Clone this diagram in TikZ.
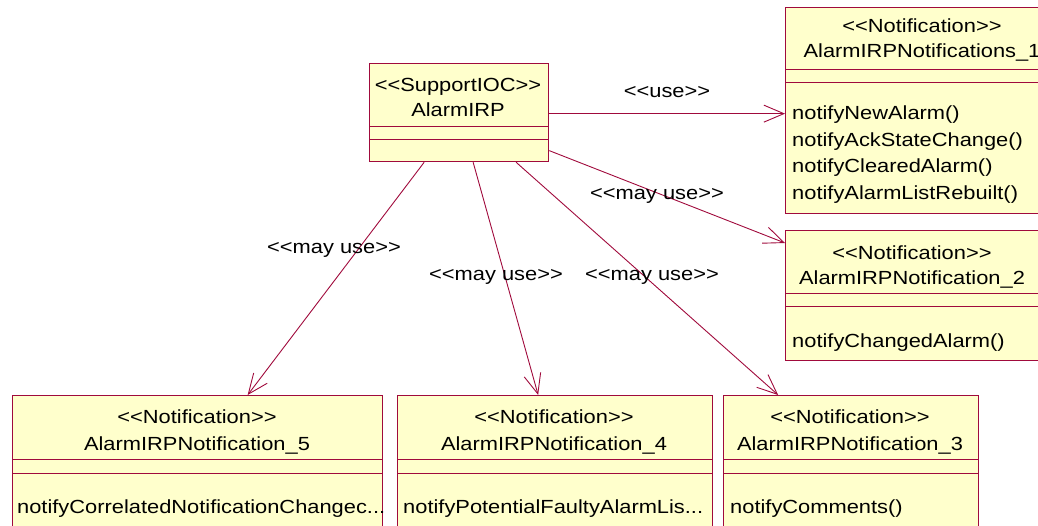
\documentclass[tikz,border=0pt]{standalone}
\usepackage{fontspec}
\newfontfamily\umlfont{Liberation Sans}[FakeStretch=1.15]
\usetikzlibrary{arrows.meta,positioning}
\definecolor{umlline}{RGB}{160,10,60}
\definecolor{umlfill}{RGB}{255,255,204}

\begin{document}
\begin{tikzpicture}[
    x=1pt, y=-1pt,
    classbox/.style={rectangle, draw=umlline, fill=umlfill, line width=1.3pt, inner sep=0pt, anchor=north west},
    sep/.style={draw=umlline, line width=1pt},
    txt/.style={font=\umlfont\fontsize{19}{22}\selectfont, inner sep=0pt, anchor=base},
    op/.style={txt, anchor=base west},
    dep/.style={draw=umlline, line width=0.9pt, -{Straight Barb[length=20pt,width=17pt]}}
]
\useasboundingbox (0,0) rectangle (1038,526);

% SupportIOC class
\node[classbox, minimum width=179pt, minimum height=98pt] (irp) at (369,63) {};
\draw[sep] ([yshift=-64pt]irp.north west) -- ([yshift=-64pt]irp.north east);
\draw[sep] ([yshift=-77pt]irp.north west) -- ([yshift=-77pt]irp.north east);
\node[txt] (irp_st) at (458,92) {<<SupportIOC>>};
\node[txt] (irp_nm) at (458,117) {AlarmIRP};

% Notification 1
\node[classbox, minimum width=275pt, minimum height=206pt] (n1) at (785,7) {};
\draw[sep] ([yshift=-63pt]n1.north west) -- ([yshift=-63pt]n1.north east);
\draw[sep] ([yshift=-76pt]n1.north west) -- ([yshift=-76pt]n1.north east);
\node[txt] (n1_st) at (922,33) {<<Notification>>};
\node[txt] (n1_nm) at (922,58) {AlarmIRPNotifications\_1};
\node[op] (n1_op1) at (792,120) {notifyNewAlarm()};
\node[op] (n1_op2) at (792,147) {notifyAckStateChange()};
\node[op] (n1_op3) at (792,173) {notifyClearedAlarm()};
\node[op] (n1_op4) at (792,200) {notifyAlarmListRebuilt()};

% Notification 2
\node[classbox, minimum width=255pt, minimum height=130pt] (n2) at (785,230) {};
\draw[sep] ([yshift=-64pt]n2.north west) -- ([yshift=-64pt]n2.north east);
\draw[sep] ([yshift=-77pt]n2.north west) -- ([yshift=-77pt]n2.north east);
\node[txt] (n2_st) at (912,260) {<<Notification>>};
\node[txt] (n2_nm) at (912,285) {AlarmIRPNotification\_2};
\node[op] (n2_op1) at (792,347) {notifyChangedAlarm()};

% Notification 5
\node[classbox, minimum width=370pt, minimum height=150pt] (n5) at (12,395) {};
\draw[sep] ([yshift=-64pt]n5.north west) -- ([yshift=-64pt]n5.north east);
\draw[sep] ([yshift=-78pt]n5.north west) -- ([yshift=-78pt]n5.north east);
\node[txt] (n5_st) at (197,423) {<<Notification>>};
\node[txt] (n5_nm) at (197,450) {AlarmIRPNotification\_5};
\node[op] (n5_op1) at (17,513) {notifyCorrelatedNotificationChangec...};

% Notification 4
\node[classbox, minimum width=315pt, minimum height=150pt] (n4) at (397,395) {};
\draw[sep] ([yshift=-64pt]n4.north west) -- ([yshift=-64pt]n4.north east);
\draw[sep] ([yshift=-78pt]n4.north west) -- ([yshift=-78pt]n4.north east);
\node[txt] (n4_st) at (554,423) {<<Notification>>};
\node[txt] (n4_nm) at (554,450) {AlarmIRPNotification\_4};
\node[op] (n4_op1) at (403,513) {notifyPotentialFaultyAlarmLis...};

% Notification 3
\node[classbox, minimum width=255pt, minimum height=150pt] (n3) at (723,395) {};
\draw[sep] ([yshift=-64pt]n3.north west) -- ([yshift=-64pt]n3.north east);
\draw[sep] ([yshift=-78pt]n3.north west) -- ([yshift=-78pt]n3.north east);
\node[txt] (n3_st) at (850,423) {<<Notification>>};
\node[txt] (n3_nm) at (850,450) {AlarmIRPNotification\_3};
\node[op] (n3_op1) at (730,513) {notifyComments()};

% dependencies
\draw[dep] ([yshift=-1pt]irp.east) -- ([yshift=-3pt]n1.west);
\draw[dep] ([yshift=-38pt]irp.east) -- ([yshift=-13pt]n2.north west);
\draw[dep] ([xshift=-35pt]irp.south) -- ([xshift=50pt]n5.north);
\draw[dep] ([xshift=14pt]irp.south) -- ([xshift=-17pt]n4.north);
\draw[dep] ([xshift=57pt]irp.south) -- ([xshift=-73pt]n3.north);

% stereotypes on the dependencies
\node[txt] (use1) at (667,98) {<<use>>};
\node[txt] (use2) at (657,200) {<<may use>>};
\node[txt] (use5) at (334,254) {<<may use>>};
\node[txt] (use4) at (496,281) {<<may use>>};
\node[txt] (use3) at (652,281) {<<may use>>};

\end{tikzpicture}
\end{document}
